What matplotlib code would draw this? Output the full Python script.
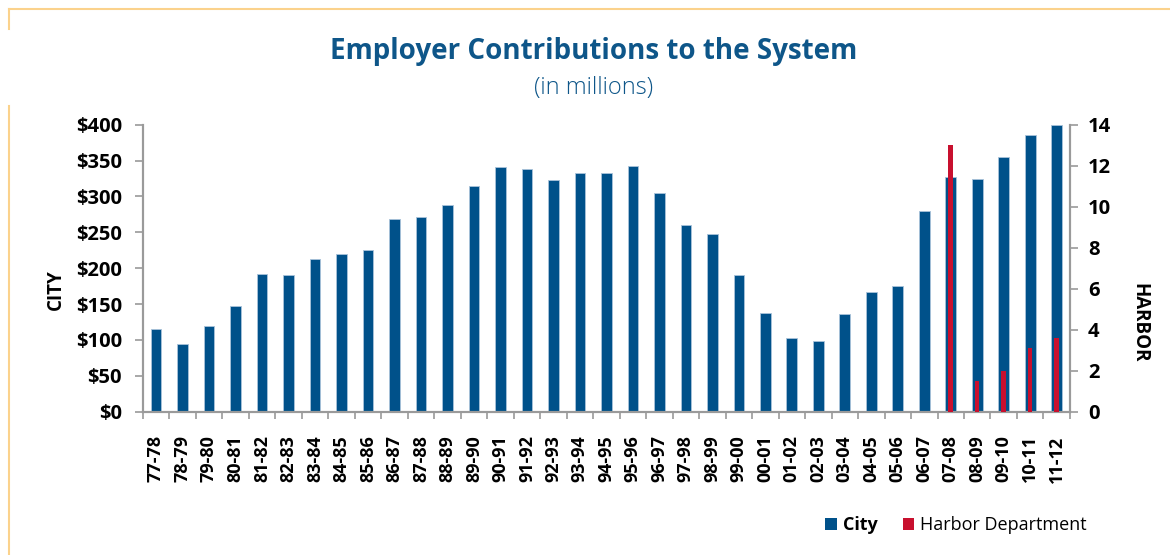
import matplotlib
matplotlib.use("Agg")
import matplotlib.pyplot as plt
from matplotlib.patches import Patch
from matplotlib.lines import Line2D
import numpy as np

plt.rcParams['font.family'] = ['Open Sans', 'DejaVu Sans']

years = ["77-78", "78-79", "79-80", "80-81", "81-82", "82-83", "83-84", "84-85",
         "85-86", "86-87", "87-88", "88-89", "89-90", "90-91", "91-92", "92-93",
         "93-94", "94-95", "95-96", "96-97", "97-98", "98-99", "99-00", "00-01",
         "01-02", "02-03", "03-04", "04-05", "05-06", "06-07", "07-08", "08-09",
         "09-10", "10-11", "11-12"]
city = [115, 94, 120, 148, 192, 190, 213, 220, 226, 269, 271, 288, 315, 341,
        338, 323, 332, 333, 343, 305, 260, 248, 190, 138, 103, 98, 136, 167,
        175, 280, 327, 325, 355, 386, 400]
harbor_years = ["07-08", "08-09", "09-10", "10-11", "11-12"]
harbor = [13.0, 1.5, 2.0, 3.1, 3.6]

city_ticks = [0, 50, 100, 150, 200, 250, 300, 350, 400]
harbor_ticks = [0, 2, 4, 6, 8, 10, 12, 14]

BLUE = "#00518A"
RED = "#C8102E"
TITLE = "#0E5689"
GREY = "#9A9A9A"

fig = plt.figure(figsize=(11.7, 5.55), dpi=100)
ax = fig.add_axes([0.122, 0.2582, 0.9145 - 0.122, 0.7753 - 0.2582])
ax2 = ax.twinx()

x = np.arange(len(years))
ax.bar(x, city, width=0.4, color=BLUE, edgecolor="#A9C3DA", linewidth=0.6, zorder=2)
hx = [years.index(y) for y in harbor_years]
ax2.bar(hx, harbor, width=0.17, color=RED, linewidth=0, zorder=3)

ax.set_xlim(-0.5, len(years) - 0.5)
ax.set_ylim(0, 400)
ax2.set_ylim(0, 14)

ax.set_yticks(city_ticks)
ax.set_yticklabels([f"${v}" for v in city_ticks])
ax2.set_yticks(harbor_ticks)
ax2.set_yticklabels([str(v) for v in harbor_ticks])

ax.set_xticks(x)
ax.set_xticklabels(years, rotation=90)
ax.set_xticks(np.arange(-0.5, len(years)), minor=True)
ax.tick_params(axis="x", which="major", length=0, pad=17, labelsize=13)
ax.tick_params(axis="x", which="minor", length=5, width=1.2, color=GREY, direction="out")
for lab in ax.get_xticklabels():
    lab.set_fontweight("bold")

ax.tick_params(axis="y", length=6, width=1.2, color=GREY, direction="out", pad=9, labelsize=14.5)
ax2.tick_params(axis="y", length=6, width=1.2, color=GREY, direction="out", pad=7, labelsize=14.5)
for lab in ax.get_yticklabels() + ax2.get_yticklabels():
    lab.set_fontweight("bold")

for a in (ax, ax2):
    a.spines["top"].set_visible(False)
    for s in ("left", "right", "bottom"):
        a.spines[s].set_color(GREY)
        a.spines[s].set_linewidth(1.5)
ax2.set_zorder(ax.get_zorder() + 1)
ax2.patch.set_visible(False)

fig.text(0.048, 0.479, "CITY", rotation=90, ha="center", va="center",
         fontsize=13.5, fontweight="bold")
fig.text(0.974, 0.418, "HARBOR", rotation=270, ha="center", va="center",
         fontsize=13.5, fontweight="bold")

fig.text(0.507, 0.908, "Employer Contributions to the System", ha="center",
         va="center", fontsize=20, fontweight="bold", color=TITLE)
fig.text(0.507, 0.842, "(in millions)", ha="center", va="center",
         fontsize=17, fontweight="light", color=TITLE)

handles = [Patch(facecolor=BLUE, edgecolor="none"), Patch(facecolor=RED, edgecolor="none")]
leg = fig.legend(handles, ["City", "Harbor Department"], loc="center",
                 bbox_to_anchor=(0.817, 0.054), ncol=2, frameon=False,
                 fontsize=13, handlelength=0.65, handleheight=0.65,
                 handletextpad=0.3, columnspacing=1.4)
leg.get_texts()[0].set_fontweight("bold")

# outer frame
BORDER = "#FBD28C"
fig.add_artist(Line2D([9 / 1170, 1.0], [1 - 9 / 555] * 2, color=BORDER, lw=1.5,
                      transform=fig.transFigure))
fig.add_artist(Line2D([9 / 1170] * 2, [1 - 9 / 555, 1 - 29 / 555], color=BORDER, lw=1.5,
                      transform=fig.transFigure))
fig.add_artist(Line2D([9 / 1170] * 2, [1 - 106 / 555, 0], color=BORDER, lw=1.5,
                      transform=fig.transFigure))

fig.savefig("out.png", dpi=100)
